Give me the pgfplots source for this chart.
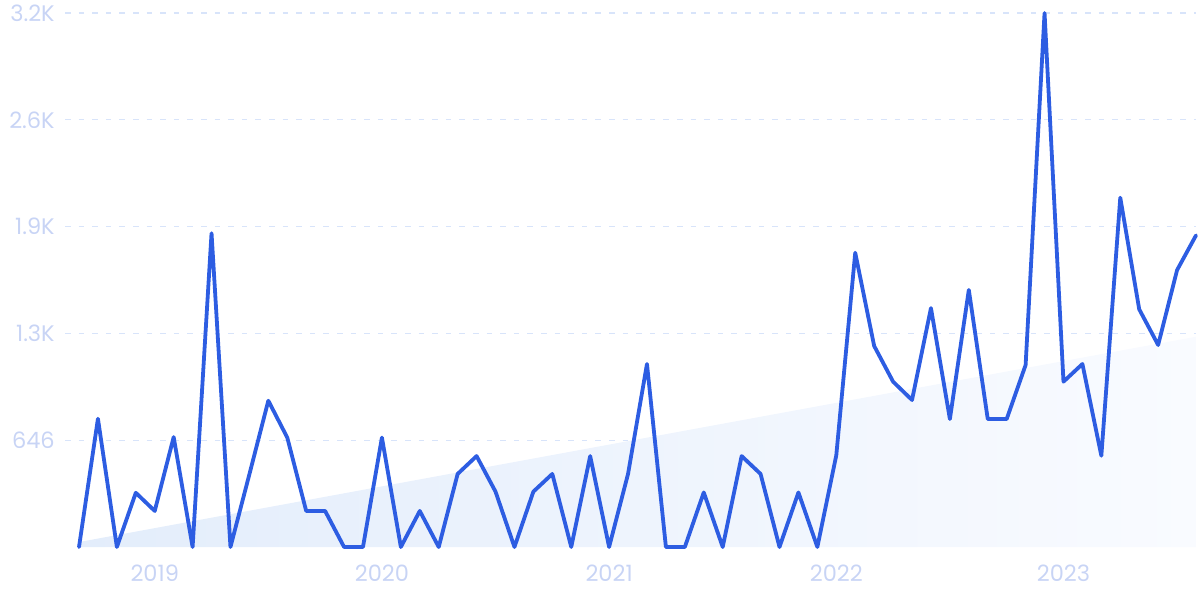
\documentclass[border=0pt]{standalone}
\usepackage{pgfplots}
\pgfplotsset{compat=1.18}
\usepackage{fontspec}
\setmainfont{Poppins}
\definecolor{linec}{RGB}{45,93,226}
\definecolor{labc}{RGB}{200,212,245}
\definecolor{gridc}{RGB}{216,228,250}
\definecolor{trendL}{RGB}{227,237,251}
\definecolor{trendR}{RGB}{249,251,255}
\begin{document}
\begin{tikzpicture}
\useasboundingbox (0,0) rectangle (300mm,150mm);
\begin{axis}[
  at={(16.25mm,13.25mm)}, anchor=south west,
  scale only axis,
  width=282.75mm, height=133.5mm,
  xmin=-0.74, xmax=59,
  ymin=0, ymax=3230,
  axis line style={draw=none},
  tick style={draw=none},
  clip=false,
  ytick={646,1292,1938,2584,3230},
  yticklabels={646,1.3K,1.9K,2.6K,3.2K},
  xtick={4,16,28,40,52},
  xticklabels={2019,2020,2021,2022,2023},
  /pgf/number format/assume math mode=true,
  ymajorgrids,
  major grid style={draw=gridc, line width=0.3mm, dash pattern=on 1.4mm off 2mm},
  ticklabel style={font=\fontsize{16}{18}\selectfont, text=labc, inner sep=0pt},
  yticklabel style={anchor=east, xshift=-2.5mm},
  xticklabel style={anchor=north, yshift=-4.3mm},
]
\addplot[draw=none, left color=trendL, right color=trendR] coordinates {(0,0) (0,30) (59,1272) (59,0)} -- cycle;
\addplot[color=linec, line width=0.95mm, line join=round, line cap=round] coordinates {
(0,0) (1,776) (2,0) (3,328) (4,218) (5,665) (6,0) (7,1898) (8,0) (9,440)
(10,885) (11,662) (12,218) (13,218) (14,0) (15,0) (16,662) (17,0) (18,218) (19,0)
(20,442) (21,550) (22,335) (23,0) (24,335) (25,442) (26,0) (27,550) (28,0) (29,442)
(30,1107) (31,0) (32,0) (33,330) (34,0) (35,550) (36,442) (37,0) (38,330) (39,0)
(40,555) (41,1780) (42,1216) (43,1000) (44,889) (45,1445) (46,774) (47,1555) (48,774) (49,774)
(50,1101) (51,3230) (52,1000) (53,1107) (54,552) (55,2113) (56,1438) (57,1222) (58,1675) (59,1885)
};
\end{axis}
\end{tikzpicture}
\end{document}
